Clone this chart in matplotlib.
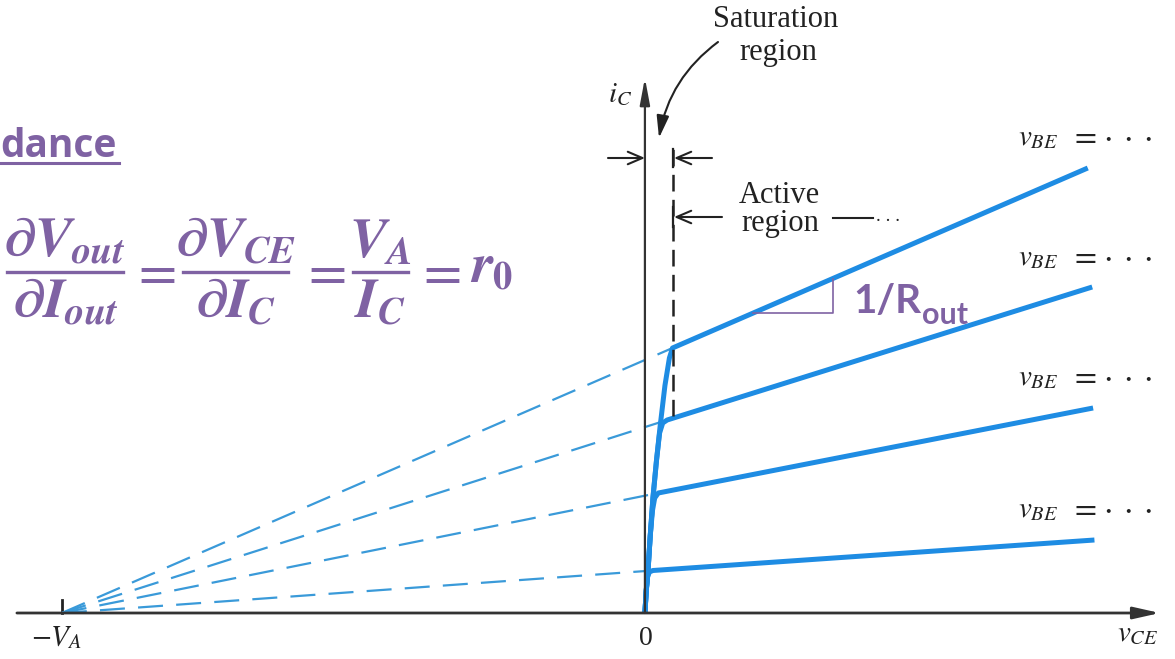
import numpy as np
import matplotlib
matplotlib.use('Agg')
import matplotlib.pyplot as plt

# equation font: bold italic serif for the purple formulas
plt.rcParams['mathtext.fontset'] = 'custom'
plt.rcParams['mathtext.it'] = 'STIXGeneral:italic:bold'
plt.rcParams['mathtext.rm'] = 'STIXGeneral:bold'
plt.rcParams['mathtext.bf'] = 'STIXGeneral:bold'
plt.rcParams['lines.scale_dashes'] = False

# Early voltage (magnitude) and the i_C - v_CE curves, bottom to top
V_A = 13.1
curve_v = [
    [0, 0.03, 0.06, 0.10, 0.18, 10.10],
    [0, 0.03, 0.07, 0.12, 0.17, 0.22, 0.30, 10.07],
    [0, 0.03, 0.07, 0.12, 0.18, 0.26, 0.33, 0.40, 0.50, 10.05],
    [0, 0.03, 0.07, 0.12, 0.18, 0.26, 0.34, 0.45, 0.55, 0.62, 9.95],
]
curve_i = [
    [0, 0.45, 0.72, 0.82, 0.85, 1.46],
    [0, 0.45, 0.85, 1.55, 2.05, 2.30, 2.40, 4.10],
    [0, 0.45, 0.85, 1.55, 2.30, 3.05, 3.60, 3.80, 3.86, 6.52],
    [0, 0.45, 0.85, 1.55, 2.30, 3.05, 3.72, 4.55, 5.10, 5.30, 8.90],
]
# saturation / active boundary
v_sat = 0.63
sat_i = [3.95, 9.3]
# slope marker on the top curve
slope_v = [2.43, 4.22]

BLUE = '#1E8CE3'
DASH_BLUE = '#3A9AD9'
INK = '#222222'
PURPLE = '#7F62A3'
SERIF = 'Liberation Serif'

fig = plt.figure(figsize=(11.75, 6.59), dpi=100)
ax = fig.add_axes([0, 0, 1, 1])
ax.set_xlim(-14.49, 11.91)
ax.set_ylim(-0.92, 12.26)
ax.axis('off')

# axes with arrow heads
ax.annotate('', xy=(11.57, 0), xytext=(-14.11, 0),
            arrowprops=dict(arrowstyle='-|>,head_length=0.8,head_width=0.18',
                            color='#333333', lw=2.0, shrinkA=0, shrinkB=0,
                            mutation_scale=20))
ax.annotate('', xy=(0, 10.7), xytext=(0, 0),
            arrowprops=dict(arrowstyle='-|>,head_length=0.8,head_width=0.15',
                            color='#333333', lw=1.6, shrinkA=0, shrinkB=0,
                            mutation_scale=20))
ax.plot([-V_A, -V_A], [0, 0.26], color=INK, lw=2)

# dashed extrapolations back to -V_A, then the curves
for v, i in zip(curve_v, curve_i):
    ax.plot([-V_A, v[-2]], [0, i[-2]], color=DASH_BLUE, lw=1.6, dashes=(18, 9.5))
for v, i in zip(curve_v, curve_i):
    ax.plot(v, i, color=BLUE, lw=3.6, solid_capstyle='butt', solid_joinstyle='round')

ax.plot([v_sat, v_sat], sat_i, color=INK, lw=1.8, dashes=(12, 6))

# 1/R_out slope triangle
top_v, top_i = curve_v[-1], curve_i[-1]
s0, s1 = np.interp(slope_v, top_v, top_i)
ax.plot([slope_v[0], slope_v[1], slope_v[1]], [s0, s0, s1], color=PURPLE, lw=1.2)

# overlay in pixel coordinates for the labels
ov = fig.add_axes([0, 0, 1, 1], facecolor='none')
ov.set_xlim(0, 1175)
ov.set_ylim(659, 0)
ov.axis('off')

# region markers
arrow_kw = dict(arrowstyle='->,head_length=0.7,head_width=0.3', color=INK, lw=1.5,
                shrinkA=0, shrinkB=0, mutation_scale=15)
ov.annotate('', xy=(645, 158), xytext=(608, 158), arrowprops=arrow_kw)
ov.annotate('', xy=(674, 158), xytext=(712, 158), arrowprops=arrow_kw)
ov.annotate('', xy=(674, 217), xytext=(722, 217), arrowprops=arrow_kw)
ov.plot([673, 673], [149, 167], color=INK, lw=1.6)
ov.plot([673, 673], [207, 227], color=INK, lw=1.6)
ov.plot([833, 873], [218, 218], color=INK, lw=1.5)
ov.text(876, 221, '. . .', fontsize=14, family=SERIF, color=INK, va='baseline')

ov.annotate('', xy=(659, 138), xytext=(718, 42),
            arrowprops=dict(arrowstyle='-|>,head_length=0.9,head_width=0.25',
                            connectionstyle='arc3,rad=0.2', color=INK, lw=1.5,
                            shrinkA=0, shrinkB=0, mutation_scale=15))

lab = dict(family=SERIF, fontsize=22, color=INK, ha='center', va='baseline')
ov.text(776, 27, 'Saturation', **lab)
ov.text(778, 60, 'region', **lab)
ov.text(779, 203, 'Active', **lab)
ov.text(780, 231, 'region', **lab)

mlab = dict(fontsize=21, color=INK, va='baseline', math_fontfamily='stix')
ov.text(632, 102, r'$i_C$', ha='right', **mlab)
ov.text(646, 645, '0', family=SERIF, fontsize=20, color=INK, ha='center', va='baseline')
ov.text(57, 645, r'$-V_A$', ha='center', **mlab)
ov.text(1117, 641, r'$v_{CE}$', ha='left', **mlab)
for b in [145, 265, 385, 517]:
    ov.text(1018, b, r'$v_{BE}$', ha='left', **mlab)
    ov.text(1083, b, r'$=$', ha='center', fontsize=23, color=INK, va='baseline',
            math_fontfamily='stix')
    for x in [1107, 1127, 1147]:
        ov.text(x, b, r'$\cdot$', ha='center', fontsize=24, color=INK,
                va='baseline', math_fontfamily='stix')

# purple heading and formula
ov.text(0, 157, 'dance', ha='left', va='baseline', family='Open Sans',
        fontweight='bold', fontsize=28, color=PURPLE)
ov.plot([0, 119], [163, 163], color=PURPLE, lw=2.2)

eq = dict(fontsize=40, color=PURPLE, ha='center', va='baseline')
ov.text(64, 257, r'$\partial V_{out}$', **eq)
ov.text(65, 318, r'$\partial I_{out}$', **eq)
ov.plot([7, 123], [272, 272], color=PURPLE, lw=2.4)
ov.text(236, 257, r'$\partial V_{CE}$', **eq)
ov.text(235, 318, r'$\partial I_C$', **eq)
ov.plot([183, 288], [272, 272], color=PURPLE, lw=2.4)
ov.text(380, 257, r'$V_A$', **eq)
ov.text(380, 318, r'$I_C$', **eq)
ov.plot([353, 408], [272, 272], color=PURPLE, lw=2.4)
for x in [153, 323, 438]:
    ov.text(x, 273, r'$=$', fontsize=40, color=PURPLE, ha='center', va='center',
            math_fontfamily='stix')
ov.text(470, 283, r'$r_0$', fontsize=40, color=PURPLE, ha='left', va='baseline')

ov.text(853, 313, '1/R', family='Lato', fontweight='bold', fontsize=29,
        color=PURPLE, ha='left', va='baseline')
ov.text(922, 324, 'out', family='Lato', fontweight='bold', fontsize=22,
        color=PURPLE, ha='left', va='baseline')

fig.savefig('out.png', dpi=100, facecolor='white')
